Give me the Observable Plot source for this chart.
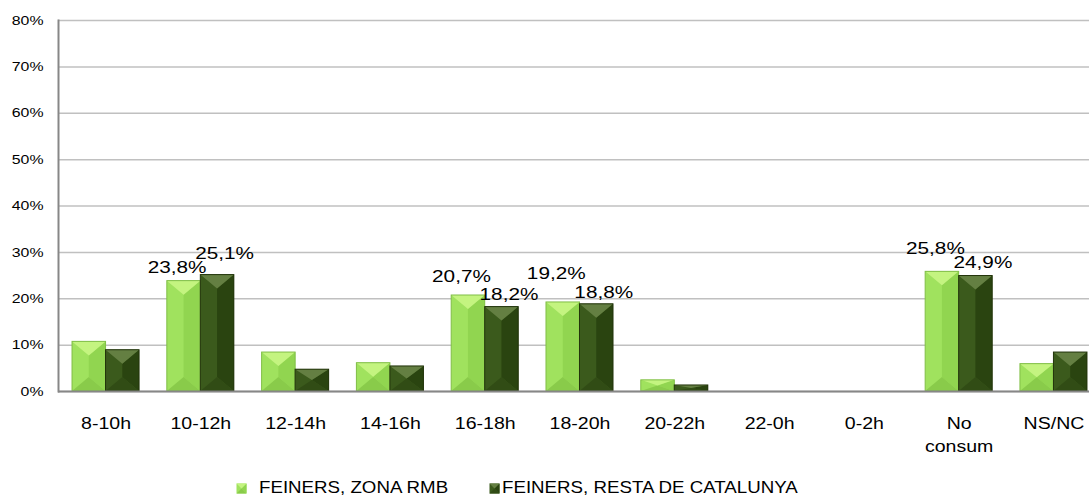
<!DOCTYPE html>
<html>
<head>
<meta charset="utf-8">
<script src="https://cdn.jsdelivr.net/npm/d3@7"></script>
<script src="https://cdn.jsdelivr.net/npm/@observablehq/plot@0.6"></script>
<style>
  html, body { margin: 0; padding: 0; background: #fff; overflow: hidden; width: 1089px; height: 502px; }
  #chart { position: absolute; left: 0; top: 0; }
  #legend { position: absolute; left: 0; top: 476px; width: 1089px; height: 24px; font-family: "Liberation Sans", Arial, sans-serif; font-size: 17px; color: #000; }
  .item { position: absolute; top: 0; display: flex; align-items: center; height: 24px; white-space: nowrap; }
  .item svg { display: block; }
  .item span { display: inline-block; transform: scaleX(1.1); transform-origin: 0 50%; }
</style>
</head>
<body>
<div id="chart"></div>
<div id="legend"></div>
<script>
const categories = ["8-10h", "10-12h", "12-14h", "14-16h", "16-18h", "18-20h", "20-22h", "22-0h", "0-2h", "No consum", "NS/NC"];
const seriesNames = ["FEINERS, ZONA RMB", "FEINERS, RESTA DE CATALUNYA"];
const rmbValues   = [10.7, 23.8, 8.4, 6.1, 20.7, 19.2, 2.4, 0, 0, 25.8, 5.9];
const restaValues = [8.9, 25.1, 4.7, 5.4, 18.2, 18.8, 1.3, 0, 0, 24.9, 8.4];
const yTicks = [0, 10, 20, 30, 40, 50, 60, 70, 80];
const labelThreshold = 15;

const palettes = [
  { base: "#a0e25e", right: "#91d550", top: "#c4f480", bottom: "#89cb4a", stroke: "#80be47" },
  { base: "#3b5a1c", right: "#2a4410", top: "#647f42", bottom: "#314c15", stroke: "#22340b" }
];

const rows = categories.flatMap((c, i) => [
  { cat: c, series: seriesNames[0], value: rmbValues[i] },
  { cat: c, series: seriesNames[1], value: restaValues[i] }
]);

const svgNS = "http://www.w3.org/2000/svg";
function poly(parent, pts, fill) {
  const p = document.createElementNS(svgNS, "polygon");
  p.setAttribute("points", pts.map(q => q.join(",")).join(" "));
  p.setAttribute("fill", fill);
  parent.appendChild(p);
  return p;
}
function bevel(pal) {
  return (index, scales, values, dimensions, context, next) => {
    const g = next(index, scales, values, dimensions, context);
    for (const r of Array.from(g.querySelectorAll("rect"))) {
      const x = +r.getAttribute("x"), y = +r.getAttribute("y");
      const w = +r.getAttribute("width"), h = +r.getAttribute("height");
      if (!(h > 0.5)) continue;
      const v = Math.min(14, h / 2), cx = x + w / 2;
      const parent = r.parentNode;
      poly(parent, [[cx, y + v], [x + w, y], [x + w, y + h], [cx, y + h - v]], pal.right);
      poly(parent, [[x, y + h], [x + w, y + h], [cx, y + h - v]], pal.bottom);
      poly(parent, [[x, y], [x + w, y], [cx, y + v]], pal.top);
      const o = document.createElementNS(svgNS, "rect");
      for (const a of ["x", "y", "width", "height"]) o.setAttribute(a, r.getAttribute(a));
      o.setAttribute("fill", "none");
      o.setAttribute("stroke", pal.stroke);
      o.setAttribute("stroke-width", "1");
      parent.appendChild(o);
    }
    return g;
  };
}

const fmt = v => v.toFixed(1).replace(".", ",") + "%";
const half = 33.5;
const spread = 7;

const chart = Plot.plot({
  width: 1089,
  height: 462,
  marginLeft: 58,
  marginRight: -12,
  marginTop: 20,
  marginBottom: 71,
  style: { fontFamily: "'Liberation Sans', Arial, sans-serif", background: "white", color: "#000" },
  x: { domain: categories, paddingInner: 0.293, paddingOuter: 0.148, round: false, axis: null },
  y: { domain: [0, 80], axis: null },
  marks: [
    Plot.gridY(yTicks, { stroke: "#c0c0c0", strokeOpacity: 1, strokeWidth: 1.5 }),
    Plot.barY(rows.filter(d => d.series === seriesNames[0]), {
      x: "cat", y: "value", insetRight: half, fill: palettes[0].base, render: bevel(palettes[0])
    }),
    Plot.barY(rows.filter(d => d.series === seriesNames[1]), {
      x: "cat", y: "value", insetLeft: half, fill: palettes[1].base, render: bevel(palettes[1])
    }),
    Plot.ruleY([0], { stroke: "#878787", strokeWidth: 2 }),
    Plot.frame({ anchor: "left", stroke: "#878787", strokeWidth: 2 }),
    Plot.text(rows.filter(d => d.series === seriesNames[0] && d.value >= labelThreshold), {
      x: "cat", y: "value", text: d => fmt(d.value), dx: -half / 2 - spread, dy: -18, fontSize: 17, fill: "#000"
    }),
    Plot.text(rows.filter(d => d.series === seriesNames[1] && d.value >= labelThreshold), {
      x: "cat", y: "value", text: d => fmt(d.value), dx: half / 2 + spread, dy: -18, fontSize: 17, fill: "#000"
    }),
    Plot.axisY(yTicks, { tickSize: 0, tickPadding: 15, tickFormat: d => d + "%", fontSize: 13, fill: "#000", label: null }),
    Plot.axisX({ tickSize: 0, tickPadding: 22, fontSize: 16, fill: "#000", lineHeight: 1.4, label: null,
      tickFormat: d => d.replace(" ", "\n") })
  ]
});
document.getElementById("chart").appendChild(chart);

// the reference's texts are horizontally wider than their height suggests: widen glyphs
const stretch = 1.22;
for (const t of Array.from(chart.querySelectorAll("text"))) {
  const spans = t.querySelectorAll("tspan");
  const targets = spans.length ? Array.from(spans) : [t];
  for (const el of targets) {
    const L = el.getComputedTextLength();
    if (L > 0) {
      el.setAttribute("textLength", (L * stretch).toFixed(2));
      el.setAttribute("lengthAdjust", "spacingAndGlyphs");
    }
  }
}

// resolve collisions between data labels (like the spreadsheet's label placement)
const labelEls = Array.from(chart.querySelectorAll('g[aria-label="text"] text'));
const baseT = labelEls.map(el => el.getAttribute("transform") || "");
const offs = labelEls.map(() => ({ dx: 0, dy: 0 }));
const applyOff = i => labelEls[i].setAttribute("transform", `${baseT[i]} translate(${offs[i].dx},${offs[i].dy})`);
const padY = 3;
for (let iter = 0; iter < 40; iter++) {
  const rc = labelEls.map(el => el.getBoundingClientRect());
  let moved = false;
  for (let i = 0; i < rc.length; i++) {
    for (let j = i + 1; j < rc.length; j++) {
      const a = rc[i], b = rc[j];
      const ox = Math.min(a.right, b.right) - Math.max(a.left, b.left) + 1;
      const oy = Math.min(a.bottom - padY, b.bottom - padY) - Math.max(a.top + padY, b.top + padY) + 1;
      if (ox > 0 && oy > 0) {
        moved = true;
        if (ox <= oy) {
          const [l, r] = (a.left + a.right) <= (b.left + b.right) ? [i, j] : [j, i];
          offs[l].dx -= ox / 2; offs[r].dx += ox / 2;
        } else {
          const [u, d] = (a.top + a.bottom) <= (b.top + b.bottom) ? [i, j] : [j, i];
          offs[u].dy -= oy / 2; offs[d].dy += oy / 2;
        }
      }
    }
  }
  if (!moved) break;
  labelEls.forEach((_, i) => applyOff(i));
}

// legend
const legend = document.getElementById("legend");
const positions = [{ left: 236, gap: 12 }, { left: 489, gap: 2 }];
seriesNames.forEach((name, i) => {
  const pal = palettes[i];
  const item = document.createElement("div");
  item.className = "item";
  item.style.left = positions[i].left + "px";
  const s = document.createElementNS(svgNS, "svg");
  s.setAttribute("width", 11); s.setAttribute("height", 11);
  const r = document.createElementNS(svgNS, "rect");
  r.setAttribute("x", 0.5); r.setAttribute("y", 0.5); r.setAttribute("width", 10); r.setAttribute("height", 10);
  r.setAttribute("fill", pal.base); s.appendChild(r);
  poly(s, [[5.5, 5.5], [10.5, 0.5], [10.5, 10.5]], pal.right);
  poly(s, [[0.5, 10.5], [10.5, 10.5], [5.5, 5.5]], pal.bottom);
  poly(s, [[0.5, 0.5], [10.5, 0.5], [5.5, 5.5]], pal.top);
  item.appendChild(s);
  const t = document.createElement("span");
  t.textContent = name;
  t.style.marginLeft = positions[i].gap + "px";
  item.appendChild(t);
  legend.appendChild(item);
});
</script>
</body>
</html>
